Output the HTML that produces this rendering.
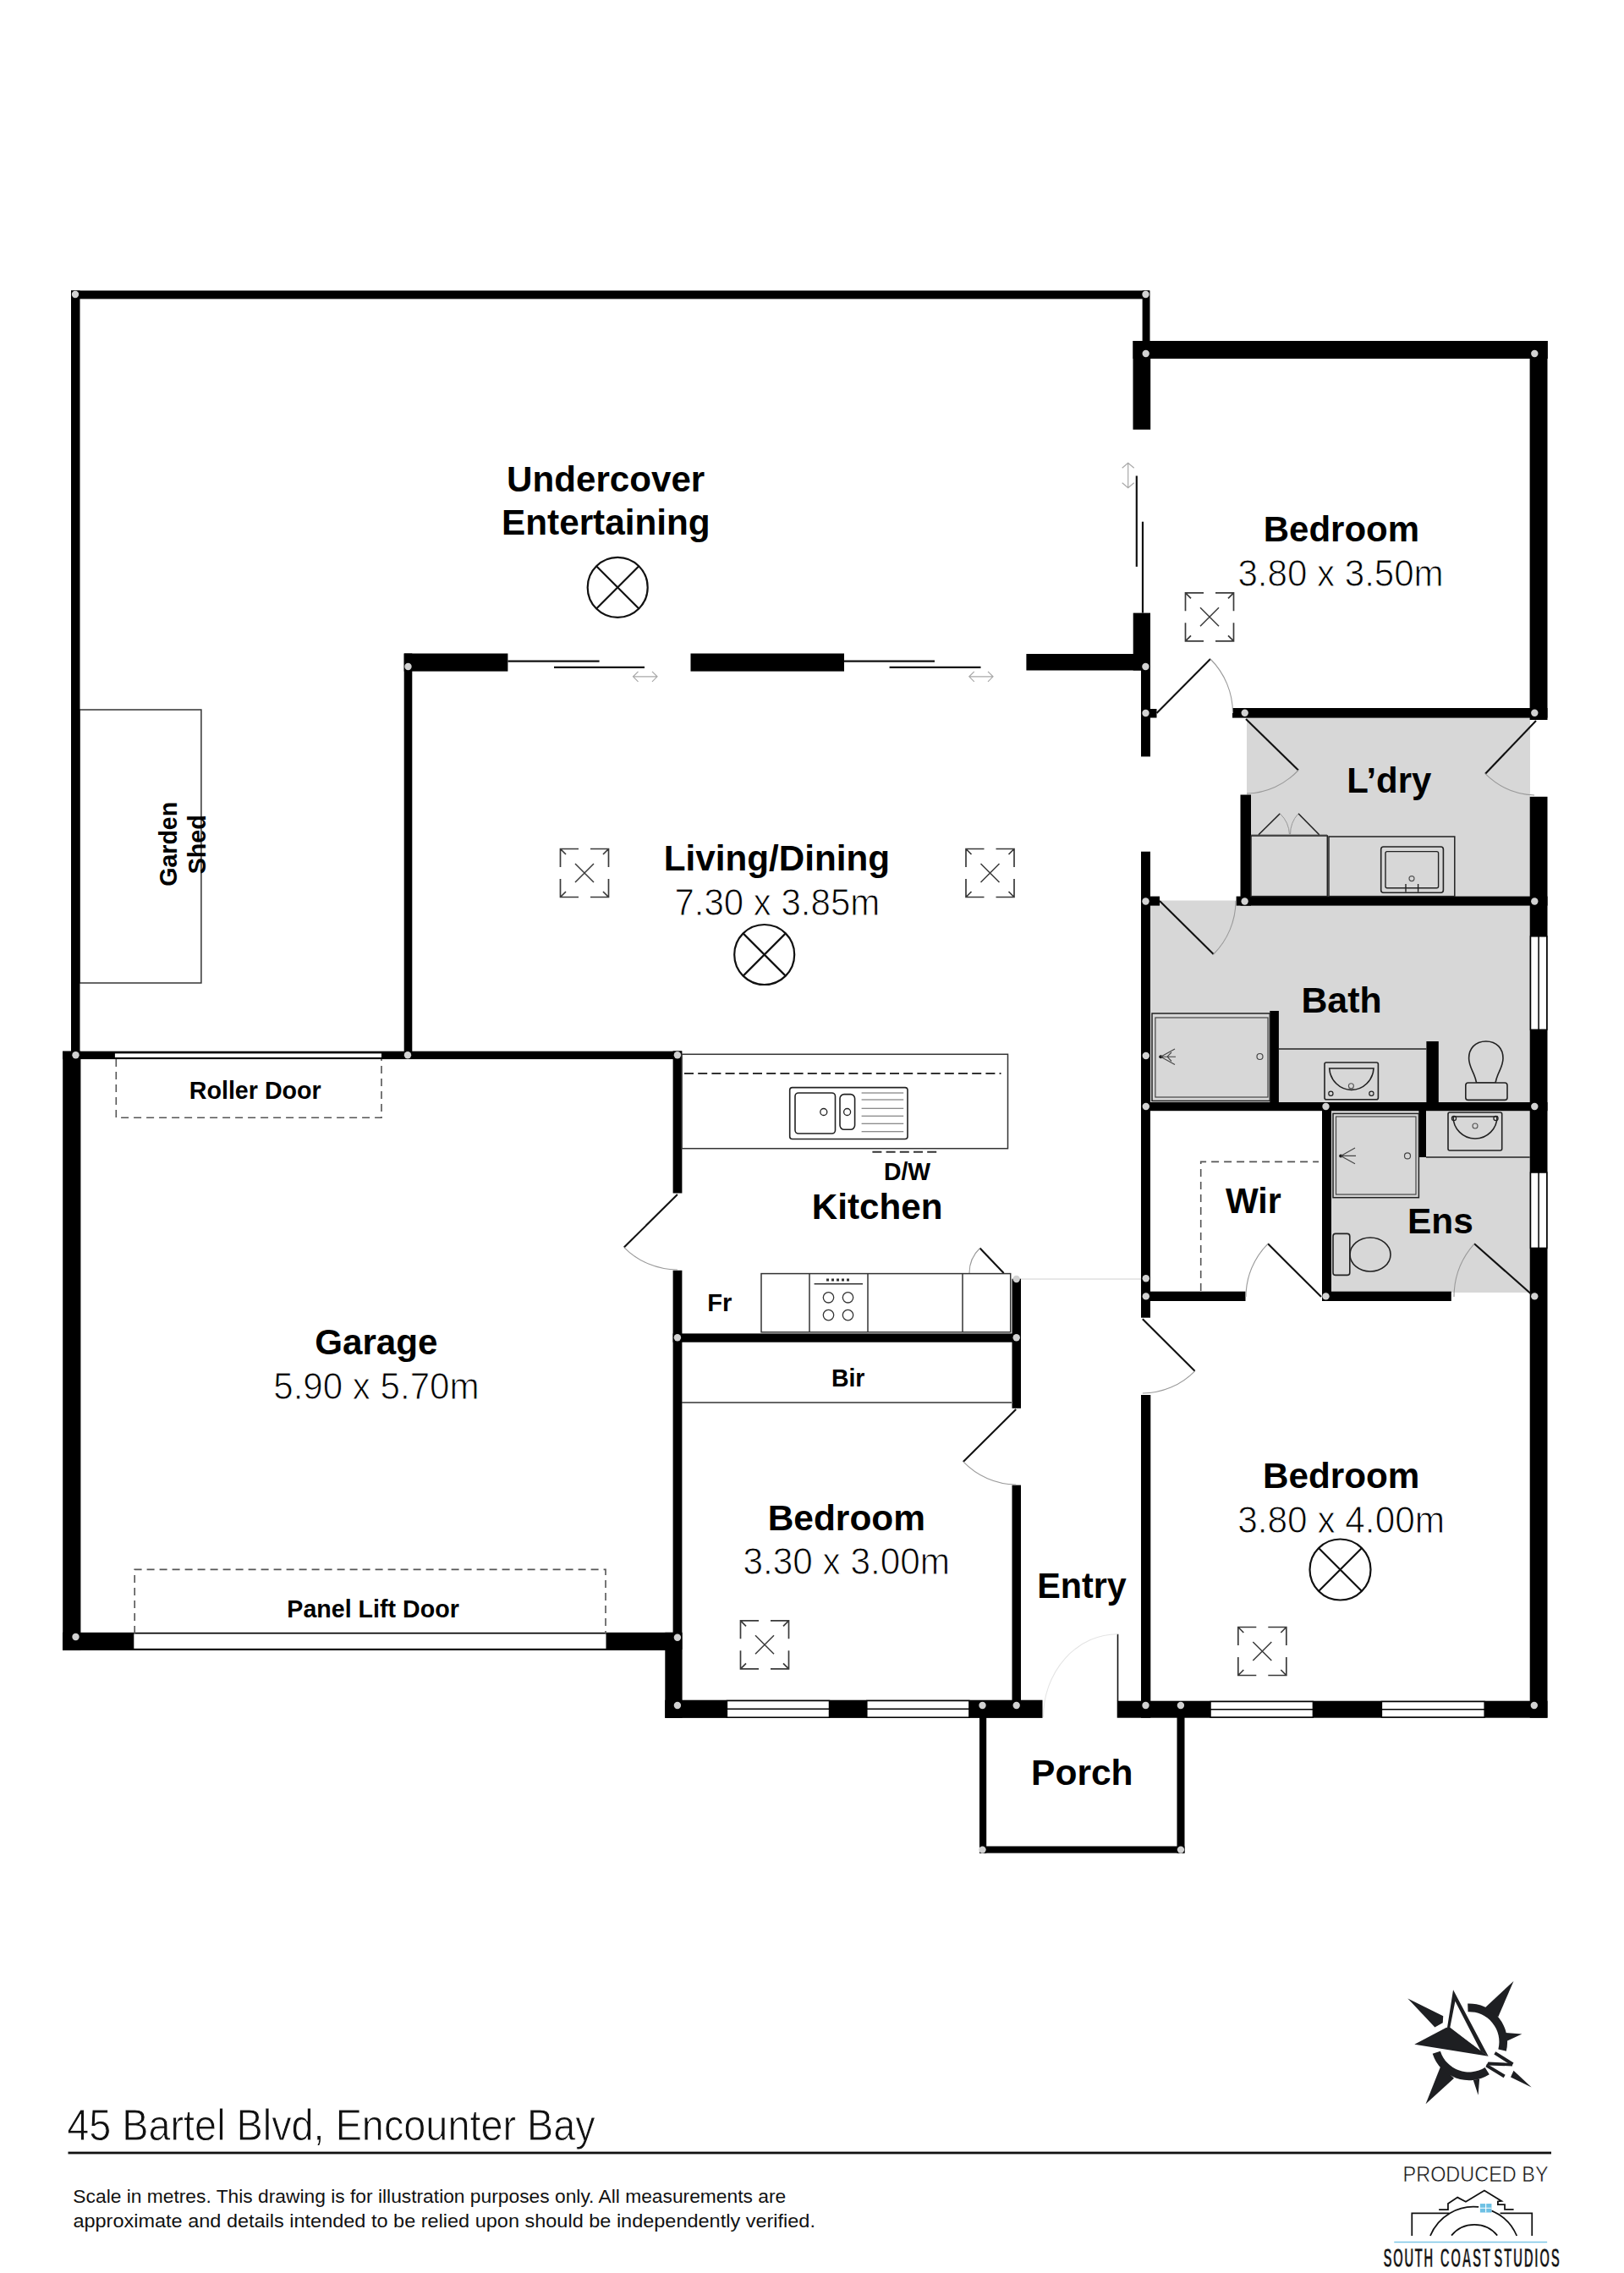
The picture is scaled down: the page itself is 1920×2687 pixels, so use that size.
<!DOCTYPE html>
<html><head><meta charset="utf-8"><title>Floor plan</title>
<style>html,body{margin:0;padding:0;background:#fff;}svg{display:block;}</style></head>
<body><svg width="1920" height="2687" viewBox="0 0 1920 2687">
<rect width="1920" height="2687" fill="#fff"/>
<rect x="1474.0" y="848.0" width="335.0" height="212.0" fill="#d7d7d7" />
<rect x="1360.0" y="1064.5" width="449.0" height="239.5" fill="#d7d7d7" />
<rect x="1574.0" y="1313.0" width="235.0" height="215.0" fill="#d7d7d7" />
<rect x="94.0" y="839.0" width="143.9" height="323.0" rx="0" fill="none" stroke="#333" stroke-width="1.5" />
<line x1="1207.0" y1="1512.0" x2="1350.0" y2="1512.0" stroke="#d0d0d0" stroke-width="1" />
<rect x="84.0" y="343.5" width="1275.0" height="9.9" fill="#000" />
<rect x="84.0" y="343.5" width="10.5" height="906.5" fill="#000" />
<rect x="1350.6" y="343.5" width="8.9" height="66.5" fill="#000" />
<rect x="1339.5" y="403.0" width="490.3" height="21.0" fill="#000" />
<rect x="1339.5" y="403.0" width="20.7" height="104.8" fill="#000" />
<rect x="1339.7" y="724.6" width="20.3" height="67.9" fill="#000" />
<rect x="1808.6" y="403.0" width="20.9" height="448.0" fill="#000" />
<rect x="1457.0" y="837.0" width="372.5" height="11.6" fill="#000" />
<rect x="477.7" y="772.5" width="122.7" height="21.1" fill="#000" />
<rect x="816.5" y="772.5" width="181.5" height="21.1" fill="#000" />
<rect x="1213.4" y="773.0" width="146.6" height="19.5" fill="#000" />
<rect x="477.7" y="772.5" width="9.6" height="479.5" fill="#000" />
<rect x="1349.0" y="790.0" width="11.0" height="104.4" fill="#000" />
<rect x="1349.0" y="838.0" width="18.5" height="10.5" fill="#000" />
<rect x="1349.0" y="1006.7" width="11.0" height="551.0" fill="#000" />
<rect x="1349.0" y="1059.6" width="22.0" height="11.0" fill="#000" />
<rect x="1349.0" y="1649.0" width="11.3" height="381.7" fill="#000" />
<rect x="1466.5" y="939.5" width="12.5" height="131.1" fill="#000" />
<rect x="1461.6" y="1059.6" width="367.9" height="11.0" fill="#000" />
<rect x="1808.7" y="941.8" width="20.8" height="1088.9" fill="#000" />
<rect x="1501.3" y="1195.0" width="10.6" height="109.0" fill="#000" />
<rect x="1686.4" y="1231.0" width="14.4" height="73.0" fill="#000" />
<rect x="1349.0" y="1303.0" width="480.5" height="10.2" fill="#000" />
<rect x="1563.0" y="1303.0" width="11.0" height="235.0" fill="#000" />
<rect x="1677.4" y="1313.0" width="8.6" height="55.0" fill="#000" />
<rect x="1563.0" y="1526.7" width="152.8" height="11.3" fill="#000" />
<rect x="1349.0" y="1526.7" width="123.5" height="11.3" fill="#000" />
<rect x="1320.7" y="2010.7" width="508.8" height="20.0" fill="#000" />
<rect x="1158.0" y="2030.0" width="8.2" height="160.6" fill="#000" />
<rect x="1158.0" y="2182.5" width="242.5" height="8.1" fill="#000" />
<rect x="1391.5" y="2030.0" width="9.0" height="160.6" fill="#000" />
<rect x="795.6" y="1242.4" width="10.8" height="168.1" fill="#000" />
<rect x="795.6" y="1501.8" width="10.8" height="448.2" fill="#000" />
<rect x="786.3" y="1929.8" width="20.3" height="101.1" fill="#000" />
<rect x="786.3" y="2009.7" width="446.2" height="21.2" fill="#000" />
<rect x="1196.5" y="1511.7" width="10.5" height="153.1" fill="#000" />
<rect x="1196.5" y="1755.6" width="10.5" height="264.4" fill="#000" />
<rect x="795.6" y="1576.4" width="411.4" height="10.3" fill="#000" />
<line x1="806.0" y1="1658.0" x2="1196.0" y2="1658.0" stroke="#333" stroke-width="1.5" />
<rect x="74.0" y="1242.7" width="732.0" height="9.4" fill="#000" />
<rect x="74.2" y="1242.7" width="21.2" height="708.2" fill="#000" />
<rect x="74.0" y="1929.8" width="732.0" height="21.1" fill="#000" />
<rect x="859.4" y="2010.5" width="121.1" height="19.7" rx="0" fill="#fff" stroke="#000" stroke-width="1.5" />
<line x1="859.4" y1="2020.3" x2="980.5" y2="2020.3" stroke="#000" stroke-width="1.5" />
<rect x="1024.8" y="2010.5" width="121.1" height="19.7" rx="0" fill="#fff" stroke="#000" stroke-width="1.5" />
<line x1="1024.8" y1="2020.3" x2="1145.9" y2="2020.3" stroke="#000" stroke-width="1.5" />
<rect x="1431.0" y="2011.5" width="121.4" height="18.5" rx="0" fill="#fff" stroke="#000" stroke-width="1.5" />
<line x1="1431.0" y1="2020.7" x2="1552.4" y2="2020.7" stroke="#000" stroke-width="1.5" />
<rect x="1633.4" y="2011.5" width="121.8" height="18.5" rx="0" fill="#fff" stroke="#000" stroke-width="1.5" />
<line x1="1633.4" y1="2020.7" x2="1755.2" y2="2020.7" stroke="#000" stroke-width="1.5" />
<rect x="1809.5" y="1106.8" width="19.3" height="110.5" rx="0" fill="#fff" stroke="#000" stroke-width="1.5" />
<line x1="1819.1" y1="1106.8" x2="1819.1" y2="1217.3" stroke="#000" stroke-width="1.5" />
<rect x="1809.5" y="1386.0" width="19.3" height="89.4" rx="0" fill="#fff" stroke="#000" stroke-width="1.5" />
<line x1="1819.1" y1="1386.0" x2="1819.1" y2="1475.4" stroke="#000" stroke-width="1.5" />
<rect x="135.9" y="1245.4" width="315.1" height="4.6" fill="#fff" />
<rect x="158.3" y="1931.5" width="558.2" height="17.3" fill="#fff" />
<path d="M137.3,1252 V1321.2 H451 V1252" fill="none" stroke="#555" stroke-width="1.6" stroke-dasharray="9,6"/>
<path d="M159.2,1931 V1855.4 H716 V1931" fill="none" stroke="#555" stroke-width="1.6" stroke-dasharray="9,6"/>
<path d="M1419.7,1526 V1373.4 H1559" fill="none" stroke="#555" stroke-width="1.6" stroke-dasharray="9,6"/>
<line x1="600.4" y1="781.7" x2="708.6" y2="781.7" stroke="#111" stroke-width="2.2" />
<line x1="655.0" y1="788.8" x2="762.0" y2="788.8" stroke="#111" stroke-width="2.2" />
<line x1="998.0" y1="781.7" x2="1105.0" y2="781.7" stroke="#111" stroke-width="2.2" />
<line x1="1051.6" y1="788.8" x2="1159.5" y2="788.8" stroke="#111" stroke-width="2.2" />
<path d="M748.5,799.8 H777 M754.5,793.8 L748.5,799.8 L754.5,805.8 M771,793.8 L777,799.8 L771,805.8" fill="none" stroke="#a8a8a8" stroke-width="1.2" />
<path d="M1145.8,799.8 H1174 M1151.8,793.8 L1145.8,799.8 L1151.8,805.8 M1168,793.8 L1174,799.8 L1168,805.8" fill="none" stroke="#a8a8a8" stroke-width="1.2" />
<line x1="1343.8" y1="562.5" x2="1343.8" y2="669.9" stroke="#111" stroke-width="2.2" />
<line x1="1351.0" y1="616.7" x2="1351.0" y2="724.6" stroke="#111" stroke-width="2.2" />
<path d="M1333.7,547.2 V576.8 M1326.7,553.2 L1333.7,547.2 L1340.7,553.2 M1326.7,570.8 L1333.7,576.8 L1340.7,570.8" fill="none" stroke="#a8a8a8" stroke-width="1.2" />
<line x1="1367.5" y1="843.0" x2="1431.0" y2="779.0" stroke="#111" stroke-width="2.1" />
<path d="M1431.0,779.0 A90.2,90.2 0 0 1 1457.5,843.0" fill="none" stroke="#9a9a9a" stroke-width="1.1" />
<line x1="1473.0" y1="850.0" x2="1535.0" y2="910.5" stroke="#111" stroke-width="2.1" />
<path d="M1535.0,910.5 A86.6,86.6 0 0 1 1474.0,938.0" fill="none" stroke="#9a9a9a" stroke-width="1.1" />
<line x1="1816.0" y1="852.0" x2="1756.0" y2="914.7" stroke="#111" stroke-width="2.1" />
<path d="M1756.0,914.7 A86.8,86.8 0 0 0 1814.0,940.0" fill="none" stroke="#9a9a9a" stroke-width="1.1" />
<line x1="1371.0" y1="1065.0" x2="1434.7" y2="1128.0" stroke="#111" stroke-width="2.1" />
<path d="M1434.7,1128.0 A89.6,89.6 0 0 0 1461.0,1065.0" fill="none" stroke="#9a9a9a" stroke-width="1.1" />
<line x1="800.9" y1="1412.0" x2="737.8" y2="1474.6" stroke="#111" stroke-width="2.1" />
<path d="M737.8,1474.6 A88.9,88.9 0 0 0 800.9,1501.0" fill="none" stroke="#9a9a9a" stroke-width="1.1" />
<line x1="1186.7" y1="1505.0" x2="1158.5" y2="1475.5" stroke="#111" stroke-width="2.1" />
<path d="M1158.5,1475.5 A40.8,40.8 0 0 0 1146.0,1505.0" fill="none" stroke="#9a9a9a" stroke-width="1.1" />
<line x1="1201.2" y1="1666.0" x2="1138.8" y2="1727.9" stroke="#111" stroke-width="2.1" />
<path d="M1138.8,1727.9 A87.9,87.9 0 0 0 1201.2,1755.0" fill="none" stroke="#9a9a9a" stroke-width="1.1" />
<line x1="1350.8" y1="1559.3" x2="1412.6" y2="1620.8" stroke="#111" stroke-width="2.1" />
<path d="M1412.6,1620.8 A87.2,87.2 0 0 1 1350.8,1647.0" fill="none" stroke="#9a9a9a" stroke-width="1.1" />
<line x1="1562.0" y1="1533.0" x2="1499.0" y2="1470.3" stroke="#111" stroke-width="2.1" />
<path d="M1499.0,1470.3 A88.9,88.9 0 0 0 1473.0,1533.0" fill="none" stroke="#9a9a9a" stroke-width="1.1" />
<line x1="1814.0" y1="1533.0" x2="1743.0" y2="1470.3" stroke="#111" stroke-width="2.1" />
<path d="M1743.0,1470.3 A94.7,94.7 0 0 0 1719.0,1533.0" fill="none" stroke="#9a9a9a" stroke-width="1.1" />
<line x1="1321.5" y1="1931.7" x2="1321.5" y2="2011.0" stroke="#111" stroke-width="1.6" />
<path d="M1321.5,1931.7 A88,98 0 0 0 1233.5,2030" fill="none" stroke="#e4e4e4" stroke-width="1.1" />
<line x1="1479.0" y1="986.8" x2="1569.0" y2="986.8" stroke="#888" stroke-width="1.2" />
<rect x="1479.0" y="988.0" width="90.3" height="71.6" rx="0" fill="none" stroke="#222" stroke-width="1.5" />
<rect x="1571.0" y="989.0" width="148.8" height="70.6" rx="0" fill="none" stroke="#222" stroke-width="1.5" />
<rect x="1632.7" y="1001.0" width="73.7" height="54.3" rx="3" fill="none" stroke="#222" stroke-width="1.6" />
<rect x="1638.0" y="1006.6" width="62.6" height="43.2" rx="2" fill="none" stroke="#222" stroke-width="1.4" />
<circle cx="1669" cy="1038.6" r="3" fill="none" stroke="#555" stroke-width="1.2"/>
<line x1="1662.0" y1="1045.0" x2="1662.0" y2="1054.6" stroke="#222" stroke-width="1.4" />
<line x1="1676.6" y1="1045.0" x2="1676.6" y2="1054.6" stroke="#222" stroke-width="1.4" />
<line x1="1488.0" y1="986.8" x2="1513.3" y2="961.8" stroke="#222" stroke-width="1.6" />
<path d="M1513.3,961.8 A36,36 0 0 1 1524.5,986.8" fill="none" stroke="#999" stroke-width="1" />
<line x1="1559.7" y1="986.8" x2="1535.0" y2="961.8" stroke="#222" stroke-width="1.6" />
<path d="M1535,961.8 A36,36 0 0 0 1525.5,986.8" fill="none" stroke="#999" stroke-width="1" />
<rect x="1362.0" y="1198.0" width="139.3" height="103.4" rx="0" fill="none" stroke="#222" stroke-width="1.5" />
<rect x="1365.9" y="1203.0" width="133.1" height="94.0" rx="0" fill="none" stroke="#444" stroke-width="1.2" />
<circle cx="1372.3" cy="1249.2" r="2" fill="#111"/>
<path d="M1372.3,1249.2 L1389,1240 M1372.3,1249.2 L1390,1249.2 M1372.3,1249.2 L1389,1258.5 M1380,1249.2 L1385,1244 M1380,1249.2 L1385,1254.5" fill="none" stroke="#444" stroke-width="1.1" />
<circle cx="1489.5" cy="1249" r="3.5" fill="none" stroke="#444" stroke-width="1.2"/>
<line x1="1512.0" y1="1240.0" x2="1686.4" y2="1240.0" stroke="#222" stroke-width="1.5" />
<rect x="1566.0" y="1256.0" width="63.4" height="43.8" rx="2" fill="none" stroke="#222" stroke-width="1.6" />
<path d="M1571.7,1263 H1624 A26.2,27 0 0 1 1571.7,1263 Z" fill="none" stroke="#222" stroke-width="1.6" />
<circle cx="1573.4" cy="1292.7" r="2.6" fill="none" stroke="#222" stroke-width="1.2"/>
<circle cx="1621.4" cy="1292.7" r="2.6" fill="none" stroke="#222" stroke-width="1.2"/>
<circle cx="1597.4" cy="1283.7" r="3" fill="none" stroke="#555" stroke-width="1.1"/>
<path d="M1756.8,1231 C1770,1231 1777,1240 1777,1251 C1777,1262 1770,1268 1768,1280 L1745.6,1280 C1743.6,1268 1736.6,1262 1736.6,1251 C1736.6,1240 1743.6,1231 1756.8,1231 Z" fill="none" stroke="#222" stroke-width="1.6"/>
<rect x="1732.8" y="1280.0" width="49.2" height="20.4" rx="3" fill="#d7d7d7" stroke="#222" stroke-width="1.6" />
<rect x="1576.0" y="1316.4" width="101.4" height="99.3" rx="0" fill="none" stroke="#222" stroke-width="1.5" />
<rect x="1579.5" y="1320.0" width="94.5" height="92.0" rx="0" fill="none" stroke="#444" stroke-width="1.2" />
<circle cx="1585.2" cy="1366.4" r="2" fill="#111"/>
<path d="M1585.2,1366.4 L1602,1357 M1585.2,1366.4 L1603,1366.4 M1585.2,1366.4 L1602,1375.8" fill="none" stroke="#444" stroke-width="1.1" />
<circle cx="1664" cy="1366.4" r="3.5" fill="none" stroke="#444" stroke-width="1.2"/>
<line x1="1686.0" y1="1368.0" x2="1808.7" y2="1368.0" stroke="#222" stroke-width="1.5" />
<rect x="1712.0" y="1315.0" width="63.7" height="45.0" rx="2" fill="none" stroke="#222" stroke-width="1.6" />
<path d="M1718,1320 H1770 A26,26 0 0 1 1718,1320" fill="none" stroke="#222" stroke-width="1.6" transform="translate(0,0)"/>
<circle cx="1719" cy="1322" r="2.6" fill="none" stroke="#222" stroke-width="1.2"/>
<circle cx="1768.5" cy="1322" r="2.6" fill="none" stroke="#222" stroke-width="1.2"/>
<circle cx="1744" cy="1331" r="3" fill="none" stroke="#555" stroke-width="1.1"/>
<rect x="1576.0" y="1458.4" width="19.8" height="49.0" rx="3" fill="#d7d7d7" stroke="#222" stroke-width="1.6" />
<ellipse cx="1620" cy="1483" rx="24" ry="20" fill="none" stroke="#222" stroke-width="1.6"/>
<rect x="806.0" y="1246.3" width="385.5" height="111.4" rx="0" fill="none" stroke="#333" stroke-width="1.5" />
<path d="M809,1269 H1183.5" fill="none" stroke="#333" stroke-width="2" stroke-dasharray="11,5.2"/>
<path d="M1031.4,1361.8 H1108.3" fill="none" stroke="#333" stroke-width="2" stroke-dasharray="11,5.2"/>
<rect x="933.7" y="1285.6" width="139.3" height="60.9" rx="3" fill="none" stroke="#222" stroke-width="1.6" />
<rect x="940.0" y="1292.0" width="47.5" height="48.0" rx="4" fill="none" stroke="#222" stroke-width="1.6" />
<rect x="993.0" y="1293.6" width="17.6" height="41.7" rx="5" fill="none" stroke="#222" stroke-width="1.6" />
<circle cx="973.8" cy="1314.5" r="4" fill="none" stroke="#222" stroke-width="1.3"/>
<circle cx="1001.6" cy="1314.5" r="4" fill="none" stroke="#222" stroke-width="1.3"/>
<line x1="1018.6" y1="1292.0" x2="1068.2" y2="1292.0" stroke="#666" stroke-width="1.1" />
<line x1="1018.6" y1="1300.0" x2="1068.2" y2="1300.0" stroke="#666" stroke-width="1.1" />
<line x1="1018.6" y1="1310.3" x2="1068.2" y2="1310.3" stroke="#666" stroke-width="1.1" />
<line x1="1018.6" y1="1319.3" x2="1068.2" y2="1319.3" stroke="#666" stroke-width="1.1" />
<line x1="1018.6" y1="1328.2" x2="1068.2" y2="1328.2" stroke="#666" stroke-width="1.1" />
<line x1="1018.6" y1="1337.8" x2="1068.2" y2="1337.8" stroke="#666" stroke-width="1.1" />
<rect x="900.0" y="1505.6" width="294.7" height="69.2" rx="0" fill="none" stroke="#333" stroke-width="1.5" />
<line x1="957.0" y1="1505.6" x2="957.0" y2="1574.8" stroke="#333" stroke-width="1.5" />
<line x1="1026.0" y1="1505.6" x2="1026.0" y2="1574.8" stroke="#333" stroke-width="1.5" />
<line x1="1138.0" y1="1505.6" x2="1138.0" y2="1574.8" stroke="#333" stroke-width="1.5" />
<line x1="962.6" y1="1517.8" x2="1020.0" y2="1517.8" stroke="#333" stroke-width="1.4" />
<path d="M977,1513 H1006" fill="none" stroke="#333" stroke-width="3" stroke-dasharray="3,3"/>
<circle cx="979.5" cy="1533.8" r="6.2" fill="none" stroke="#333" stroke-width="1.3"/>
<circle cx="979.5" cy="1554.6" r="6.2" fill="none" stroke="#333" stroke-width="1.3"/>
<circle cx="1002.5" cy="1533.8" r="6.2" fill="none" stroke="#333" stroke-width="1.3"/>
<circle cx="1002.5" cy="1554.6" r="6.2" fill="none" stroke="#333" stroke-width="1.3"/>
<circle cx="730.2" cy="694.4" r="35.5" fill="none" stroke="#111" stroke-width="2.2"/>
<path d="M705.1,669.3 L755.3,719.5 M755.3,669.3 L705.1,719.5" fill="none" stroke="#111" stroke-width="2.2" />
<circle cx="903.7" cy="1128.5" r="35.5" fill="none" stroke="#111" stroke-width="2.2"/>
<path d="M878.6,1103.4 L928.8,1153.6 M928.8,1103.4 L878.6,1153.6" fill="none" stroke="#111" stroke-width="2.2" />
<circle cx="1584.5" cy="1855.5" r="36" fill="none" stroke="#111" stroke-width="2.2"/>
<path d="M1559.0,1830.0 L1610.0,1881.0 M1610.0,1830.0 L1559.0,1881.0" fill="none" stroke="#111" stroke-width="2.2" />
<path d="M1401.5,722.3 V700.8 H1423.0 M1437.0,700.8 H1458.5 V722.3 M1458.5,736.3 V757.8 H1437.0 M1423.0,757.8 H1401.5 V736.3 M1401.5,700.8 l6.5,6.5 M1458.5,700.8 l-6.5,6.5 M1458.5,757.8 l-6.5,-6.5 M1401.5,757.8 l6.5,-6.5" fill="none" stroke="#3a3a3a" stroke-width="1.7" />
<path d="M1419.0,718.3 L1441.0,740.3 M1441.0,718.3 L1419.0,740.3" fill="none" stroke="#3a3a3a" stroke-width="1.5" />
<path d="M662.5,1025.0 V1003.5 H684.0 M698.0,1003.5 H719.5 V1025.0 M719.5,1039.0 V1060.5 H698.0 M684.0,1060.5 H662.5 V1039.0 M662.5,1003.5 l6.5,6.5 M719.5,1003.5 l-6.5,6.5 M719.5,1060.5 l-6.5,-6.5 M662.5,1060.5 l6.5,-6.5" fill="none" stroke="#3a3a3a" stroke-width="1.7" />
<path d="M680.0,1021.0 L702.0,1043.0 M702.0,1021.0 L680.0,1043.0" fill="none" stroke="#3a3a3a" stroke-width="1.5" />
<path d="M1142,1025.0 V1003.5 H1163.5 M1177.5,1003.5 H1199 V1025.0 M1199,1039.0 V1060.5 H1177.5 M1163.5,1060.5 H1142 V1039.0 M1142,1003.5 l6.5,6.5 M1199,1003.5 l-6.5,6.5 M1199,1060.5 l-6.5,-6.5 M1142,1060.5 l6.5,-6.5" fill="none" stroke="#3a3a3a" stroke-width="1.7" />
<path d="M1159.5,1021.0 L1181.5,1043.0 M1181.5,1021.0 L1159.5,1043.0" fill="none" stroke="#3a3a3a" stroke-width="1.5" />
<path d="M875.5,1937.3 V1915.8 H897.0 M911.0,1915.8 H932.5 V1937.3 M932.5,1951.3 V1972.8 H911.0 M897.0,1972.8 H875.5 V1951.3 M875.5,1915.8 l6.5,6.5 M932.5,1915.8 l-6.5,6.5 M932.5,1972.8 l-6.5,-6.5 M875.5,1972.8 l6.5,-6.5" fill="none" stroke="#3a3a3a" stroke-width="1.7" />
<path d="M893.0,1933.3 L915.0,1955.3 M915.0,1933.3 L893.0,1955.3" fill="none" stroke="#3a3a3a" stroke-width="1.5" />
<path d="M1463.8,1945.0 V1923.5 H1485.3 M1499.3,1923.5 H1520.8 V1945.0 M1520.8,1959.0 V1980.5 H1499.3 M1485.3,1980.5 H1463.8 V1959.0 M1463.8,1923.5 l6.5,6.5 M1520.8,1923.5 l-6.5,6.5 M1520.8,1980.5 l-6.5,-6.5 M1463.8,1980.5 l6.5,-6.5" fill="none" stroke="#3a3a3a" stroke-width="1.7" />
<path d="M1481.3,1941.0 L1503.3,1963.0 M1503.3,1941.0 L1481.3,1963.0" fill="none" stroke="#3a3a3a" stroke-width="1.5" />
<circle cx="89" cy="348" r="4.2" fill="#d2d2d2"/>
<circle cx="1354.5" cy="348" r="4.2" fill="#d2d2d2"/>
<circle cx="1354.7" cy="418" r="4.2" fill="#d2d2d2"/>
<circle cx="1814.3" cy="418" r="4.2" fill="#d2d2d2"/>
<circle cx="482.5" cy="788" r="4.2" fill="#d2d2d2"/>
<circle cx="1354.4" cy="788" r="4.2" fill="#d2d2d2"/>
<circle cx="1354.5" cy="843" r="4.2" fill="#d2d2d2"/>
<circle cx="1471.7" cy="842.7" r="4.2" fill="#d2d2d2"/>
<circle cx="1814.3" cy="842.7" r="4.2" fill="#d2d2d2"/>
<circle cx="1354.5" cy="1065.5" r="4.2" fill="#d2d2d2"/>
<circle cx="1471.6" cy="1065.5" r="4.2" fill="#d2d2d2"/>
<circle cx="1814.3" cy="1065.5" r="4.2" fill="#d2d2d2"/>
<circle cx="1354.8" cy="1248" r="4.2" fill="#d2d2d2"/>
<circle cx="1354.8" cy="1308" r="4.2" fill="#d2d2d2"/>
<circle cx="1567.5" cy="1308" r="4.2" fill="#d2d2d2"/>
<circle cx="1814.3" cy="1308" r="4.2" fill="#d2d2d2"/>
<circle cx="1354.8" cy="1511.3" r="4.2" fill="#d2d2d2"/>
<circle cx="1354.8" cy="1532.4" r="4.2" fill="#d2d2d2"/>
<circle cx="1567.5" cy="1532.4" r="4.2" fill="#d2d2d2"/>
<circle cx="1814.3" cy="1532.4" r="4.2" fill="#d2d2d2"/>
<circle cx="1354.5" cy="2016" r="4.2" fill="#d2d2d2"/>
<circle cx="1395.9" cy="2016" r="4.2" fill="#d2d2d2"/>
<circle cx="1813.8" cy="2016" r="4.2" fill="#d2d2d2"/>
<circle cx="1161.5" cy="2016" r="4.2" fill="#d2d2d2"/>
<circle cx="1201.7" cy="2016" r="4.2" fill="#d2d2d2"/>
<circle cx="1161.5" cy="2186.6" r="4.2" fill="#d2d2d2"/>
<circle cx="1396" cy="2186.6" r="4.2" fill="#d2d2d2"/>
<circle cx="800.9" cy="1935.8" r="4.2" fill="#d2d2d2"/>
<circle cx="800.9" cy="2016" r="4.2" fill="#d2d2d2"/>
<circle cx="89.5" cy="1247.2" r="4.2" fill="#d2d2d2"/>
<circle cx="482" cy="1247.2" r="4.2" fill="#d2d2d2"/>
<circle cx="89.5" cy="1935" r="4.2" fill="#d2d2d2"/>
<circle cx="800.9" cy="1247.2" r="4.2" fill="#d2d2d2"/>
<circle cx="800.9" cy="1581.2" r="4.2" fill="#d2d2d2"/>
<circle cx="1201.7" cy="1581.2" r="4.2" fill="#d2d2d2"/>
<circle cx="1201.7" cy="1512" r="4.2" fill="#d2d2d2"/>
<text x="599.07" y="580.9" font-family="Liberation Sans" font-size="43" font-weight="bold" fill="#000" textLength="234.17" lengthAdjust="spacingAndGlyphs">Undercover</text>
<text x="593.05" y="631.7" font-family="Liberation Sans" font-size="43" font-weight="bold" fill="#000" textLength="246.65" lengthAdjust="spacingAndGlyphs">Entertaining</text>
<text x="1493.77" y="639.9" font-family="Liberation Sans" font-size="43" font-weight="bold" fill="#000" textLength="184.23" lengthAdjust="spacingAndGlyphs">Bedroom</text>
<text x="1463.42" y="692.5" font-family="Liberation Sans" font-size="43.5" font-weight="normal" fill="#000" textLength="243.27" lengthAdjust="spacingAndGlyphs" stroke="#fff" stroke-width="0.9">3.80 x 3.50m</text>
<text x="784.75" y="1029" font-family="Liberation Sans" font-size="43" font-weight="bold" fill="#000" textLength="267.30" lengthAdjust="spacingAndGlyphs">Living/Dining</text>
<text x="797.39" y="1081.6" font-family="Liberation Sans" font-size="43.5" font-weight="normal" fill="#000" textLength="242.90" lengthAdjust="spacingAndGlyphs" stroke="#fff" stroke-width="0.9">7.30 x 3.85m</text>
<text x="1592.17" y="937" font-family="Liberation Sans" font-size="43" font-weight="bold" fill="#000" textLength="100.13" lengthAdjust="spacingAndGlyphs">L’dry</text>
<text x="1538.41" y="1197.3" font-family="Liberation Sans" font-size="43" font-weight="bold" fill="#000" textLength="95.15" lengthAdjust="spacingAndGlyphs">Bath</text>
<text x="1448.90" y="1433.6" font-family="Liberation Sans" font-size="43" font-weight="bold" fill="#000" textLength="65.70" lengthAdjust="spacingAndGlyphs">Wir</text>
<text x="1663.94" y="1458.4" font-family="Liberation Sans" font-size="43" font-weight="bold" fill="#000" textLength="77.83" lengthAdjust="spacingAndGlyphs">Ens</text>
<text x="1493.05" y="1759.4" font-family="Liberation Sans" font-size="43" font-weight="bold" fill="#000" textLength="185.36" lengthAdjust="spacingAndGlyphs">Bedroom</text>
<text x="1463.21" y="1812.3" font-family="Liberation Sans" font-size="43.5" font-weight="normal" fill="#000" textLength="244.80" lengthAdjust="spacingAndGlyphs" stroke="#fff" stroke-width="0.9">3.80 x 4.00m</text>
<text x="223.77" y="1299.4" font-family="Liberation Sans" font-size="28.7" font-weight="bold" fill="#000" textLength="155.96" lengthAdjust="spacingAndGlyphs">Roller Door</text>
<text x="339.37" y="1912.3" font-family="Liberation Sans" font-size="28.7" font-weight="bold" fill="#000" textLength="203.43" lengthAdjust="spacingAndGlyphs">Panel Lift Door</text>
<text x="372.21" y="1600.6" font-family="Liberation Sans" font-size="43" font-weight="bold" fill="#000" textLength="145.32" lengthAdjust="spacingAndGlyphs">Garage</text>
<text x="323.22" y="1653.6" font-family="Liberation Sans" font-size="43.5" font-weight="normal" fill="#000" textLength="243.38" lengthAdjust="spacingAndGlyphs" stroke="#fff" stroke-width="0.9">5.90 x 5.70m</text>
<text x="1044.98" y="1395.2" font-family="Liberation Sans" font-size="28.7" font-weight="bold" fill="#000" textLength="55.16" lengthAdjust="spacingAndGlyphs">D/W</text>
<text x="959.75" y="1441" font-family="Liberation Sans" font-size="43" font-weight="bold" fill="#000" textLength="154.76" lengthAdjust="spacingAndGlyphs">Kitchen</text>
<text x="836.34" y="1549.8" font-family="Liberation Sans" font-size="28.7" font-weight="bold" fill="#000" textLength="29.10" lengthAdjust="spacingAndGlyphs">Fr</text>
<text x="982.88" y="1638.8" font-family="Liberation Sans" font-size="28.7" font-weight="bold" fill="#000" textLength="39.53" lengthAdjust="spacingAndGlyphs">Bir</text>
<text x="907.63" y="1808.5" font-family="Liberation Sans" font-size="43" font-weight="bold" fill="#000" textLength="186.39" lengthAdjust="spacingAndGlyphs">Bedroom</text>
<text x="878.41" y="1860.7" font-family="Liberation Sans" font-size="43.5" font-weight="normal" fill="#000" textLength="244.60" lengthAdjust="spacingAndGlyphs" stroke="#fff" stroke-width="0.9">3.30 x 3.00m</text>
<text x="1226.21" y="1888.7" font-family="Liberation Sans" font-size="43" font-weight="bold" fill="#000" textLength="105.65" lengthAdjust="spacingAndGlyphs">Entry</text>
<text x="1219.03" y="2110.1" font-family="Liberation Sans" font-size="43" font-weight="bold" fill="#000" textLength="120.59" lengthAdjust="spacingAndGlyphs">Porch</text>
<g transform="translate(208.7,1046.6) rotate(-90)"><text x="-1.14" y="0" font-family="Liberation Sans" font-size="28.7" font-weight="bold" fill="#000" textLength="99.78" lengthAdjust="spacingAndGlyphs">Garden</text></g>
<g transform="translate(242.7,1032.5) rotate(-90)"><text x="-0.86" y="0" font-family="Liberation Sans" font-size="28.7" font-weight="bold" fill="#000" textLength="70.23" lengthAdjust="spacingAndGlyphs">Shed</text></g>
<text x="79.15" y="2529.8" font-family="Liberation Sans" font-size="52" font-weight="normal" fill="#111" textLength="624.63" lengthAdjust="spacingAndGlyphs" stroke="#fff" stroke-width="0.9">45 Bartel Blvd, Encounter Bay</text>
<rect x="80.5" y="2543.6" width="1753.5" height="2.8" fill="#111" />
<text x="86.37" y="2603.9" font-family="Liberation Sans" font-size="22.4" font-weight="normal" fill="#111" textLength="842.80" lengthAdjust="spacingAndGlyphs">Scale in metres. This drawing is for illustration purposes only. All measurements are</text>
<text x="86.40" y="2632.7" font-family="Liberation Sans" font-size="22.4" font-weight="normal" fill="#111" textLength="877.54" lengthAdjust="spacingAndGlyphs">approximate and details intended to be relied upon should be independently verified.</text>
<text x="1658.57" y="2579.3" font-family="Liberation Sans" font-size="26.4" font-weight="normal" fill="#111" textLength="171.95" lengthAdjust="spacingAndGlyphs" stroke="#fff" stroke-width="0.5">PRODUCED BY</text>
<g transform="translate(1655,2335) scale(0.098522)" fill="#1e1f22">
<polygon points="95,280 520,490 515,570 420,625"/>
<path fill-rule="evenodd" d="M640,175 L1062,972 L568,632 Z M664,312 L972,912 L602,628 Z"/>
<polygon points="175,830 560,628 602,640 1062,972"/>
<path d="M813.9,340.3 A460,460 0 0 1 1276.3,911.3 L1181.2,887.6 A362,362 0 0 0 817.4,438.2 Z"/>
<path d="M1073.8,1190.1 A460,460 0 0 1 392.5,942.1 L485.7,911.9 A362,362 0 0 0 1021.8,1107.0 Z"/>
<polygon points="1365,70 1180,500 1010,400"/>
<polygon points="1465,705 1285,790 1270,690"/>
<polygon points="940,1440 880,1255 955,1245"/>
<polygon points="310,1545 490,1090 650,1235"/>
<polygon points="1330,1222 1365,1145 1580,1345"/>
<polygon points="1150,915 1365,1050 1345,1085 1130,950"/>
<polygon points="1060,1040 1345,1055 1350,1090 1040,1080"/>
<polygon points="1045,1062 1265,1195 1245,1230 1030,1098"/>
</g>
<g transform="translate(1630,2580) scale(0.135465)" fill="none" stroke="#111" stroke-width="13">
<path d="M290,465 V268 H615"/>
<path d="M1060,268 H1338 V465"/>
<path d="M525,237 H605 V185 L688,130 L760,168 L922,70 L1072,162 L1040,166 V192 H1100 V236 H1178"/>
<path d="M450,465 A408.7,408.7 0 0 1 872,214"/>
<path d="M985,246 A408.7,408.7 0 0 1 1205,465"/>
<path d="M635,462 A259.8,259.8 0 0 1 1035,462"/>
</g>
<g transform="translate(1630,2580) scale(0.135465)">
<rect x="885" y="185" width="100" height="77" fill="#6ec1e4"/>
<path d="M935,185 V262 M885,223 H985" stroke="#fff" stroke-width="8"/>
<path d="M135,520 H1470" stroke="#7cc6e6" stroke-width="12"/>
</g>
<g transform="translate(1636.1,2680.2) scale(0.5,1)"><text x="-1" y="0" font-family="Liberation Sans" font-weight="bold" font-size="30.5" fill="#111" stroke="#fff" stroke-width="0.5" textLength="117.2" lengthAdjust="spacing">SOUTH</text></g>
<g transform="translate(1703.2,2680.2) scale(0.5,1)"><text x="-1" y="0" font-family="Liberation Sans" font-weight="bold" font-size="30.5" fill="#111" stroke="#fff" stroke-width="0.5" textLength="118.6" lengthAdjust="spacing">COAST</text></g>
<g transform="translate(1766.8,2680.2) scale(0.5,1)"><text x="-1" y="0" font-family="Liberation Sans" font-weight="bold" font-size="30.5" fill="#111" stroke="#fff" stroke-width="0.5" textLength="155.2" lengthAdjust="spacing">STUDIOS</text></g>
</svg></body></html>
